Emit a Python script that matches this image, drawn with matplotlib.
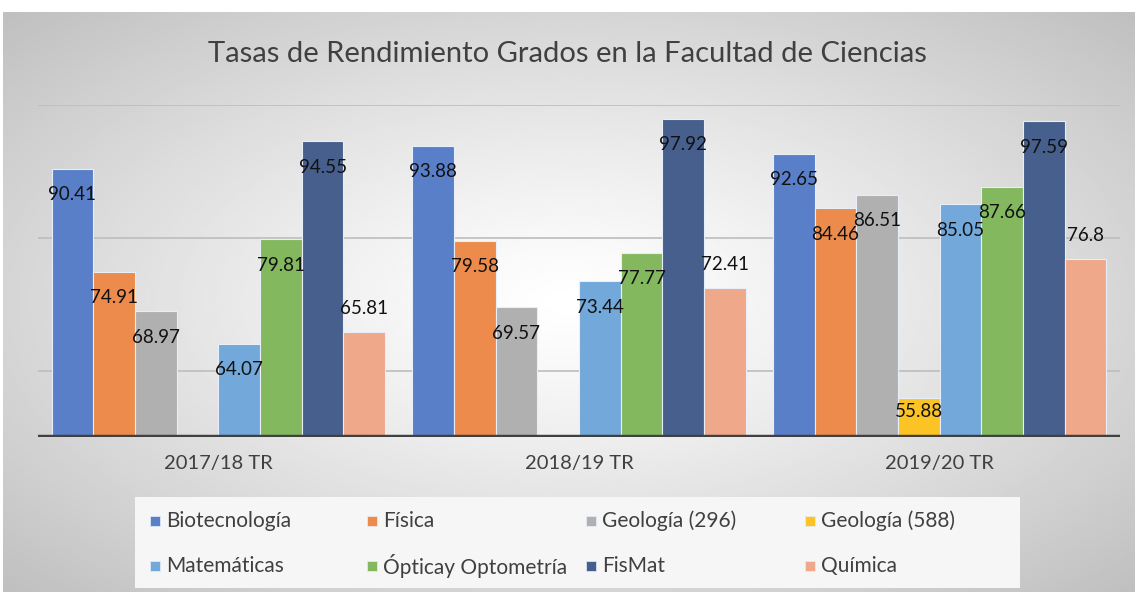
import numpy as np
import matplotlib
matplotlib.use("Agg")
import matplotlib.pyplot as plt
from matplotlib.patches import Rectangle

plt.rcParams['font.family'] = ['Lato', 'DejaVu Sans']

# datos
cursos = ['2017/18 TR', '2018/19 TR', '2019/20 TR']
grados = ['Biotecnología', 'Física', 'Geología (296)', 'Geología (588)',
          'Matemáticas', 'Ópticay Optometría', 'FisMat', 'Química']
biotecnologia = [90.41, 93.88, 92.65]
fisica = [74.91, 79.58, 84.46]
geologia_296 = [68.97, 69.57, 86.51]
geologia_588 = [np.nan, np.nan, 55.88]
matematicas = [64.07, 73.44, 85.05]
optica = [79.81, 77.77, 87.66]
fismat = [94.55, 97.92, 97.59]
quimica = [65.81, 72.41, 76.8]
series = [biotecnologia, fisica, geologia_296, geologia_588,
          matematicas, optica, fismat, quimica]
colores = ['#5a7fc9', '#ec8b4b', '#b0b0b0', '#fcc325',
           '#72a8da', '#83b85f', '#465f8d', '#f0a88b']

W, H = 1135, 592
fig = plt.figure(figsize=(W / 100, H / 100), dpi=100)

# fondo con degradado radial
bg = fig.add_axes([3 / W, 0, 1 - 3 / W, 1 - 12 / H], zorder=-2)
xx, yy = np.meshgrid(np.linspace(-1, 1, 400), np.linspace(-1, 1, 300))
r = np.sqrt(xx ** 2 + yy ** 2) / np.sqrt(2)
grad = 1.0 - 0.25 * r ** 1.2
bg.imshow(grad, cmap='gray', vmin=0, vmax=1, aspect='auto',
          extent=[0, 1, 0, 1], interpolation='bilinear')
bg.set_axis_off()

# ejes principales
x0, x1 = 38, 1120
y_top, y_base = 105, 437
ax = fig.add_axes([x0 / W, 1 - y_base / H, (x1 - x0) / W, (y_base - y_top) / H])
ax.patch.set_alpha(0)
ax.set_xlim(-0.5, 2.5)
ax.set_ylim(50, 100)

n = len(series)
ancho = 0.925 / n
x = np.arange(len(cursos))
for i, (vals, col) in enumerate(zip(series, colores)):
    pos = x - 0.925 / 2 + ancho * (i + 0.5)
    ax.bar(pos, vals, width=ancho, bottom=0, color=col,
           edgecolor='#e8eef8', linewidth=0.8, zorder=3)
    for p, v in zip(pos, vals):
        if np.isnan(v):
            continue
        altura_px = (v - 50) / 50 * (y_base - y_top)
        if grados[i] == 'Química':
            dy = 24
        elif altura_px < 55:
            dy = -14
        else:
            dy = -26
        lab = ('%.2f' % v).rstrip('0').rstrip('.')
        ax.annotate(lab, (p, v), xytext=(0, dy), textcoords='offset pixels',
                    ha='center', va='center', fontsize=13.5, color='#111111',
                    zorder=5)

for g in [60, 80, 100]:
    ax.axhline(g, color='#bdbdbd', linewidth=1.2, zorder=1)
ax.axhline(50, color='#404040', linewidth=3.2, zorder=4)

for s in ax.spines.values():
    s.set_visible(False)
ax.set_yticks([])
ax.set_xticks(x)
ax.set_xticklabels(cursos, fontsize=14.5, color='#404040')
ax.tick_params(axis='x', length=0, pad=13)

fig.text(0.5, 1 - 54 / H, 'Tasas de Rendimiento Grados en la Facultad de Ciencias',
         ha='center', va='center', fontsize=21, color='#404040')

# leyenda (4 columnas de ancho fijo, 2 filas)
fig.patches.append(Rectangle((135 / W, 1 - 588 / H), 885 / W, 91 / H,
                             transform=fig.transFigure, facecolor='#f6f6f6',
                             edgecolor='none', zorder=0))
col_x = [155, 372, 591, 810]
fila_y = [521, 566]
for k, (nombre, col) in enumerate(zip(grados, colores)):
    cx = col_x[k % 4]
    cy = fila_y[k // 4]
    fig.patches.append(Rectangle(((cx - 5) / W, 1 - (cy + 5) / H), 10 / W, 10 / H,
                                 transform=fig.transFigure, facecolor=col,
                                 edgecolor='#e8eef8', linewidth=0.5, zorder=1))
    fig.text((cx + 11) / W, 1 - cy / H, nombre, ha='left', va='center',
             fontsize=15, color='#404040')

fig.savefig('out.png', dpi=100)
